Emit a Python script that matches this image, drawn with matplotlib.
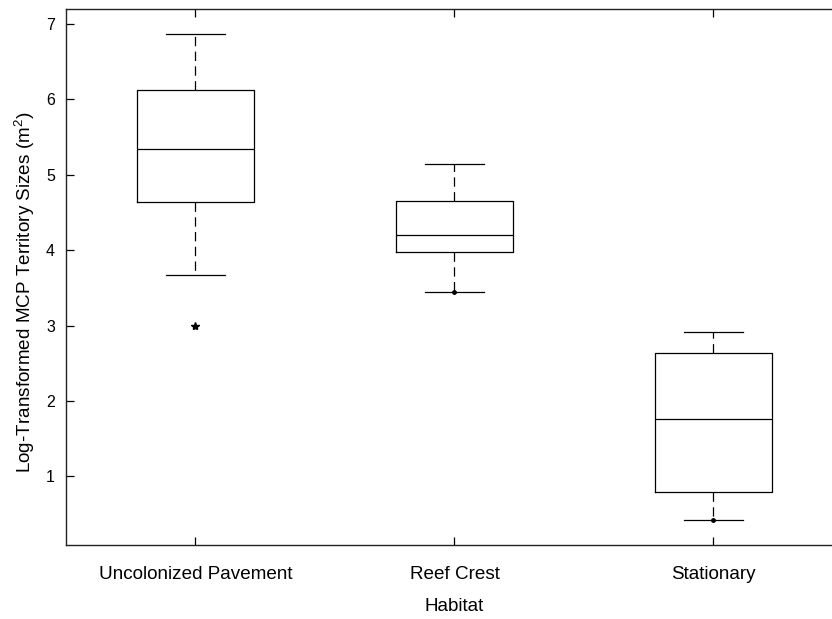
import matplotlib
matplotlib.use("Agg")
import matplotlib.pyplot as plt

plt.rcParams['font.family'] = ['Liberation Sans', 'DejaVu Sans']
plt.rcParams['mathtext.fontset'] = 'custom'
plt.rcParams['mathtext.rm'] = 'Liberation Sans'
plt.rcParams['mathtext.it'] = 'Liberation Sans'

categories = ["Uncolonized Pavement", "Reef Crest", "Stationary"]
q1 = [4.64, 3.97, 0.79]
median = [5.34, 4.20, 1.76]
q3 = [6.12, 4.65, 2.64]
whisker_low = [3.67, 3.44, 0.42]
whisker_high = [6.87, 5.15, 2.92]
outliers = [[2.99], [], []]
whisker_points = [[], [3.44], [0.42]]
yticks = [1, 2, 3, 4, 5, 6, 7]

fig = plt.figure(figsize=(8.32, 6.19), dpi=100)
ax = fig.add_axes([66 / 832, (619 - 544.7) / 619, 777 / 832, (544.7 - 9) / 619])

stats = []
for i, name in enumerate(categories):
    stats.append(dict(label=name, q1=q1[i], med=median[i], q3=q3[i],
                      whislo=whisker_low[i], whishi=whisker_high[i],
                      fliers=outliers[i]))

lw = 0.9
ax.bxp(stats, positions=[1, 2, 3], widths=0.45, showfliers=True,
       boxprops=dict(color='black', linewidth=lw),
       medianprops=dict(color='black', linewidth=lw),
       whiskerprops=dict(color='black', linewidth=lw, linestyle=(0, (7.5, 4.3))),
       capprops=dict(color='black', linewidth=lw),
       flierprops=dict(marker='*', markersize=6, markerfacecolor='black',
                       markeredgecolor='black', linestyle='none'))

for i, pts in enumerate(whisker_points):
    if pts:
        ax.plot([i + 1] * len(pts), pts, linestyle='none', marker='o',
                markersize=2.5, color='black')

ax.set_xlim(0.5, 3.5)
ax.set_ylim(0.093, 7.2)
ax.set_yticks(yticks)
ax.set_xticks([1, 2, 3])
ax.set_xticklabels(categories)

ax.tick_params(axis='both', direction='in', length=5.8, width=0.9,
               top=True, right=True, color='black')
ax.tick_params(axis='x', labelsize=13.6, pad=15)
ax.tick_params(axis='y', labelsize=11.5, pad=8)
for s in ax.spines.values():
    s.set_linewidth(1.0)
    s.set_color('#222222')

ax.set_xlabel("Habitat", fontsize=13.6, labelpad=11)
ax.set_ylabel(r"Log-Transformed MCP Territory Sizes (m$^{2}$)", fontsize=13.6)
ax.yaxis.set_label_coords(-0.037, 0.472)

fig.savefig("out.png", dpi=100)
